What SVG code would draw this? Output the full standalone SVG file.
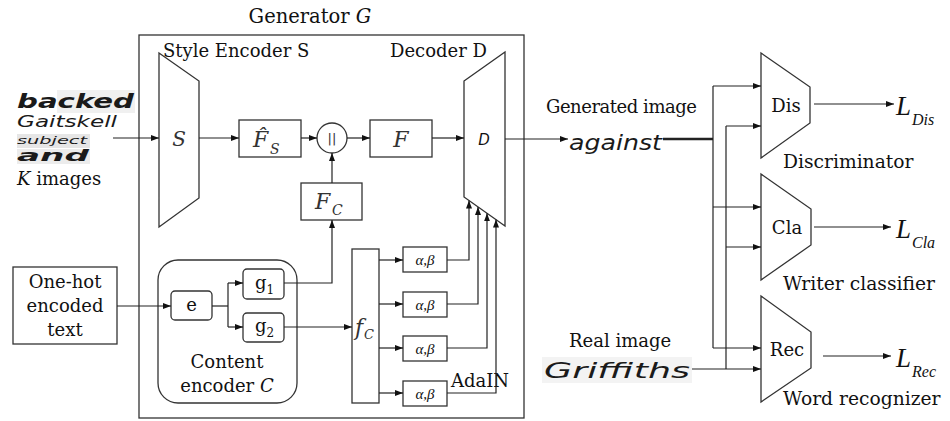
<svg xmlns="http://www.w3.org/2000/svg" width="950" height="421" viewBox="0 0 950 421">
  <defs>
    <marker id="arr" markerWidth="8" markerHeight="6" refX="8" refY="3" orient="auto" markerUnits="userSpaceOnUse">
      <path d="M0,0 L8,3 L0,6 z" fill="#111"/>
    </marker>
    <style>
      .ln { fill: none; stroke: #222; stroke-width: 1.2; }
      .box { fill: #fff; stroke: #333; stroke-width: 1.3; }
      .t { font-family: "DejaVu Serif", "Liberation Serif", serif; font-size: 18px; fill: #111; }
      .cap { font-size: 18.7px; }
      .it { font-style: italic; }
      .math { font-family: "DejaVu Serif", "Liberation Serif", serif; font-style: italic; fill: #333; }
      .loss { font-family: "Liberation Serif", "DejaVu Serif", serif; font-style: italic; fill: #111; }
      .hand { font-family: "DejaVu Sans", "Liberation Sans", sans-serif; font-style: italic; fill: #1a1a1a; }
      .mid { text-anchor: middle; }
    </style>
  </defs>

  <rect width="950" height="421" fill="#fff"/>

  <!-- Generator frame -->
  <g id="generator">
    <rect x="139" y="35" width="385" height="383" fill="none" stroke="#333" stroke-width="1.3"/>
    <text class="t mid" x="310" y="23" style="font-size:19.5px">Generator <tspan class="it">G</tspan></text>
    <text class="t" x="163" y="57">Style Encoder S</text>
    <text class="t" x="390" y="57">Decoder D</text>
  </g>

  <!-- Style samples -->
  <g id="style-images">
    <rect x="57" y="90" width="78" height="23" fill="#f0f0f0"/>
    <rect x="17" y="134" width="73" height="14" fill="#e6e6e6"/>
    <rect x="17" y="149" width="73" height="15" fill="#ececec"/>
    <text class="hand" x="17" y="108" font-size="19" font-weight="bold" textLength="117" lengthAdjust="spacingAndGlyphs">backed</text>
    <text class="hand" x="17" y="127" font-size="15" textLength="100" lengthAdjust="spacingAndGlyphs">Gaitskell</text>
    <text class="hand" x="17" y="144" font-size="10" textLength="70" lengthAdjust="spacingAndGlyphs">subject</text>
    <text class="hand" x="17" y="161" font-size="15" font-weight="bold" textLength="72" lengthAdjust="spacingAndGlyphs">and</text>
    <text class="t" x="17" y="185"><tspan class="it">K</tspan> images</text>
  </g>

  <!-- Style encoder S -->
  <g id="style-encoder">
    <polygon class="box" points="159,53 199,81 199,198 159,227"/>
    <text class="math mid" x="179" y="146" font-size="20" fill="#111">S</text>
  </g>

  <!-- Style feature F_S hat -->
  <g id="fs-hat">
    <rect class="box" x="239" y="120" width="62" height="37"/>
    <text class="math" x="253" y="147" font-size="22">F̂</text>
    <text class="math" x="270" y="154" font-size="14">S</text>
  </g>

  <!-- Concatenation -->
  <g id="concat">
    <circle cx="332" cy="138" r="15" fill="#fff" stroke="#333" stroke-width="1.3"/>
    <text x="332" y="143" text-anchor="middle" font-family="DejaVu Sans, sans-serif" font-size="13" fill="#333">||</text>
  </g>

  <!-- Feature F -->
  <g id="feature-f">
    <rect class="box" x="370" y="120" width="62" height="37"/>
    <text class="math mid" x="401" y="147" font-size="22">F</text>
  </g>

  <!-- Content feature F_C -->
  <g id="fc">
    <rect class="box" x="301" y="183" width="61" height="37"/>
    <text class="math" x="315" y="209" font-size="22">F</text>
    <text class="math" x="332" y="215" font-size="14">C</text>
  </g>

  <!-- Decoder D -->
  <g id="decoder">
    <polygon class="box" points="464,81 505,52 505,226 464,197"/>
    <text x="484" y="145" text-anchor="middle" font-family="DejaVu Sans, sans-serif" font-style="italic" font-size="15" fill="#111">D</text>
  </g>

  <!-- One-hot text input -->
  <g id="onehot">
    <rect class="box" x="13" y="267" width="104" height="77"/>
    <text class="t mid" x="65" y="288">One-hot</text>
    <text class="t mid" x="65" y="312">encoded</text>
    <text class="t mid" x="65" y="336">text</text>
  </g>

  <!-- Content encoder C -->
  <g id="content-encoder">
    <rect x="158" y="260" width="139" height="143" rx="20" fill="none" stroke="#333" stroke-width="1.3"/>
    <text class="t mid" x="227" y="368">Content</text>
    <text class="t mid" x="227" y="392">encoder <tspan class="it">C</tspan></text>
  </g>
  <g id="e">
    <rect class="box" x="171" y="291" width="41" height="29" rx="4"/>
    <text class="t mid" x="191.5" y="311">e</text>
  </g>
  <g id="g1">
    <rect class="box" x="243" y="269" width="41" height="30" rx="4"/>
    <text class="t" x="255" y="289">g<tspan font-size="12" dy="5">1</tspan></text>
  </g>
  <g id="g2">
    <rect class="box" x="243" y="313" width="41" height="29" rx="4"/>
    <text class="t" x="255" y="332">g<tspan font-size="12" dy="5">2</tspan></text>
  </g>

  <!-- f_C -->
  <g id="f-c">
    <rect class="box" x="352" y="249" width="27" height="154"/>
    <text class="math" x="355" y="335" font-size="22" fill="#666">f</text>
    <text class="math" x="364" y="339" font-size="13" fill="#666">C</text>
  </g>

  <!-- AdaIN parameters -->
  <g id="adain-1">
    <rect class="box" x="403" y="247" width="44" height="25"/>
    <text class="loss mid" x="425" y="265" font-size="15" fill="#333">α,β</text>
  </g>
  <g id="adain-2">
    <rect class="box" x="403" y="292" width="44" height="25"/>
    <text class="loss mid" x="425" y="310" font-size="15" fill="#333">α,β</text>
  </g>
  <g id="adain-3">
    <rect class="box" x="403" y="336" width="44" height="25"/>
    <text class="loss mid" x="425" y="354" font-size="15" fill="#333">α,β</text>
  </g>
  <g id="adain-4">
    <rect class="box" x="403" y="381" width="44" height="25"/>
    <text class="loss mid" x="425" y="399" font-size="15" fill="#333">α,β</text>
    <text class="t" x="451" y="387" font-size="13">AdaIN</text>
  </g>

  <!-- Generated and real samples -->
  <g id="generated-image">
    <text class="t" x="546" y="113" textLength="151">Generated image</text>
    <text class="hand" x="569" y="150" font-size="22" textLength="93" lengthAdjust="spacingAndGlyphs">against</text>
  </g>
  <g id="real-image">
    <text class="t" x="569" y="347">Real image</text>
    <rect x="542" y="357" width="150" height="26" fill="#f3f3f3"/>
    <text class="hand" x="544" y="378" font-size="22" textLength="146" lengthAdjust="spacingAndGlyphs">Griffiths</text>
  </g>

  <!-- Discriminator -->
  <g id="dis">
    <polygon class="box" points="761,53 810,87 810,123 761,158"/>
    <text class="t mid" x="786" y="112">Dis</text>
    <text class="t cap" x="783" y="168">Discriminator</text>
    <text class="loss" x="896" y="115" font-size="27">L</text>
    <text class="loss" x="912" y="125" font-size="16">Dis</text>
  </g>

  <!-- Writer classifier -->
  <g id="cla">
    <polygon class="box" points="761,174 811,209 811,245 761,280"/>
    <text class="t mid" x="787" y="234">Cla</text>
    <text class="t cap" x="783" y="290">Writer classifier</text>
    <text class="loss" x="896" y="238" font-size="27">L</text>
    <text class="loss" x="912" y="248" font-size="16">Cla</text>
  </g>

  <!-- Word recognizer -->
  <g id="rec">
    <polygon class="box" points="761,296 811,332 811,368 761,402"/>
    <text class="t mid" x="787" y="356">Rec</text>
    <text class="t cap" x="783" y="405">Word recognizer</text>
    <text class="loss" x="896" y="367" font-size="27">L</text>
    <text class="loss" x="912" y="377" font-size="16">Rec</text>
  </g>

  <!-- Connectors -->
  <g id="connectors" class="ln">
    <path d="M113,138 H159" marker-end="url(#arr)"/>
    <path d="M199,138 H239" marker-end="url(#arr)"/>
    <path d="M301,138 H317" marker-end="url(#arr)"/>
    <path d="M347,138 H370" marker-end="url(#arr)"/>
    <path d="M432,138 H464" marker-end="url(#arr)"/>
    <path d="M332,183 V153" marker-end="url(#arr)"/>
    <path d="M117,306 H171" marker-end="url(#arr)"/>
    <path d="M212,306 H228"/>
    <path d="M228,283 V327"/>
    <path d="M228,283 H243" marker-end="url(#arr)"/>
    <path d="M228,327 H243" marker-end="url(#arr)"/>
    <path d="M284,283 H332 V220" marker-end="url(#arr)"/>
    <path d="M284,327 H352" marker-end="url(#arr)"/>
    <path d="M379,260 H403" marker-end="url(#arr)"/>
    <path d="M379,304 H403" marker-end="url(#arr)"/>
    <path d="M379,348 H403" marker-end="url(#arr)"/>
    <path d="M379,393 H403" marker-end="url(#arr)"/>
    <path d="M447,260 H469 V200.5" marker-end="url(#arr)"/>
    <path d="M447,304 H478 V207" marker-end="url(#arr)"/>
    <path d="M447,348 H487 V213.3" marker-end="url(#arr)"/>
    <path d="M447,393 H496 V219.6" marker-end="url(#arr)"/>
    <path d="M505,139 H568" marker-end="url(#arr)"/>
    <path d="M663,139 H713" stroke-width="2.4"/>
    <path d="M713,86 V348"/>
    <path d="M726,126 V369"/>
    <path d="M713,86 H761" marker-end="url(#arr)"/>
    <path d="M726,126 H761" marker-end="url(#arr)"/>
    <path d="M713,207 H761" marker-end="url(#arr)"/>
    <path d="M726,247 H761" marker-end="url(#arr)"/>
    <path d="M713,348 H761" marker-end="url(#arr)"/>
    <path d="M692,369 H761" marker-end="url(#arr)"/>
    <path d="M814,104 H894" marker-end="url(#arr)"/>
    <path d="M814,227 H891" marker-end="url(#arr)"/>
    <path d="M823,356 H891" marker-end="url(#arr)"/>
  </g>
</svg>
